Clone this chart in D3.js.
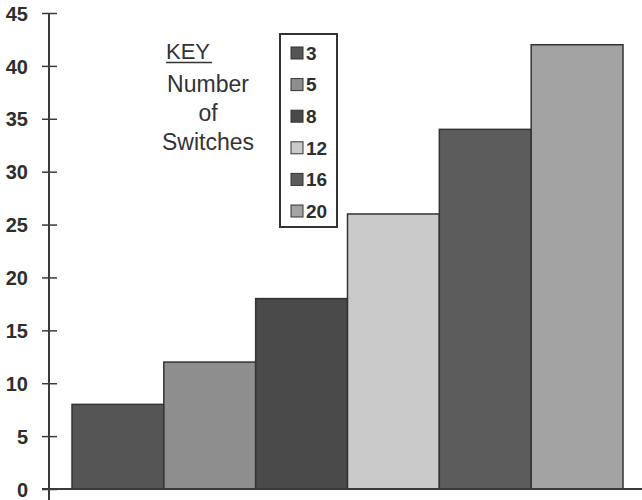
<!DOCTYPE html>
<html>
<head>
<meta charset="utf-8">
<script src="https://cdn.jsdelivr.net/npm/d3@7"></script>
<style>
  html, body { margin: 0; padding: 0; background: #fff; }
  svg { display: block; font-family: "Liberation Sans", Arial, sans-serif; }
</style>
</head>
<body>
<svg id="chart" width="642" height="500"></svg>
<script>
// Number of switches per group and the measured value for each
const switches = ["3", "5", "8", "12", "16", "20"];
const values = [8, 12, 18, 26, 34, 42];
const fills = ["#555555", "#8e8e8e", "#4a4a4a", "#cacaca", "#5c5c5c", "#a3a3a3"];
const yTicks = [0, 5, 10, 15, 20, 25, 30, 35, 40, 45];
const keyLines = ["Number", "of", "Switches"];

const svg = d3.select("#chart");
const ink = "#3a3a3a";

const x = d3.scaleBand().domain(switches).range([72, 623]).padding(0);
const y = d3.scaleLinear().domain([0, 45]).range([489, 13]);
const color = d3.scaleOrdinal().domain(switches).range(fills);

// Bars, drawn edge to edge
svg.append("g")
  .selectAll("rect")
  .data(switches.map((s, i) => ({ s, v: values[i] })))
  .join("rect")
  .attr("x", d => x(d.s))
  .attr("y", d => y(d.v))
  .attr("width", x.bandwidth())
  .attr("height", d => y(0) - y(d.v))
  .attr("fill", d => color(d.s))
  .attr("stroke", "#333")
  .attr("stroke-width", 1.5);

// Baseline running across to the right edge
svg.append("line")
  .attr("x1", 42).attr("x2", 642)
  .attr("y1", y(0)).attr("y2", y(0))
  .attr("stroke", ink).attr("stroke-width", 2);

// Y axis with ticks crossing the line
const yAxis = d3.axisLeft(y)
  .tickValues(yTicks)
  .tickSize(0)
  .tickPadding(0);
const gy = svg.append("g").attr("transform", "translate(49,0)").call(yAxis);
gy.select(".domain").remove();
gy.append("line")
  .attr("x1", 0).attr("x2", 0)
  .attr("y1", y(45)).attr("y2", 500)
  .attr("stroke", ink).attr("stroke-width", 2);
gy.selectAll(".tick line")
  .attr("x1", -7).attr("x2", 8)
  .attr("stroke", ink).attr("stroke-width", 1.5);
gy.selectAll(".tick text")
  .attr("x", -21)
  .attr("dy", "0.36em")
  .attr("fill", "#2e2e2e")
  .style("font-size", "20px")
  .style("font-weight", "bold");

// Key title
const key = svg.append("g");
key.append("text")
  .attr("x", 166).attr("y", 59)
  .attr("fill", "#333")
  .style("font-size", "22px")
  .text("KEY");
key.append("line")
  .attr("x1", 166).attr("x2", 212)
  .attr("y1", 62.5).attr("y2", 62.5)
  .attr("stroke", "#333").attr("stroke-width", 1.5);
key.selectAll("text.sub")
  .data(keyLines)
  .join("text")
  .attr("class", "sub")
  .attr("x", 208)
  .attr("y", (d, i) => 92 + i * 29)
  .attr("text-anchor", "middle")
  .attr("fill", "#333")
  .style("font-size", "23px")
  .text(d => d);

// Legend box
const legend = svg.append("g");
legend.append("rect")
  .attr("x", 280).attr("y", 34)
  .attr("width", 57).attr("height", 193)
  .attr("fill", "#fff")
  .attr("stroke", "#333").attr("stroke-width", 2);
const item = legend.selectAll("g.item")
  .data(switches)
  .join("g")
  .attr("class", "item")
  .attr("transform", (d, i) => `translate(291,${53 + i * 31.6})`);
item.append("rect")
  .attr("x", 0).attr("y", -6)
  .attr("width", 12).attr("height", 12)
  .attr("fill", d => color(d))
  .attr("stroke", "#333").attr("stroke-width", 1);
item.append("text")
  .attr("x", 15).attr("y", 0)
  .attr("dy", "0.36em")
  .attr("fill", "#2e2e2e")
  .style("font-size", "19px")
  .style("font-weight", "bold")
  .text(d => d);
</script>
</body>
</html>
